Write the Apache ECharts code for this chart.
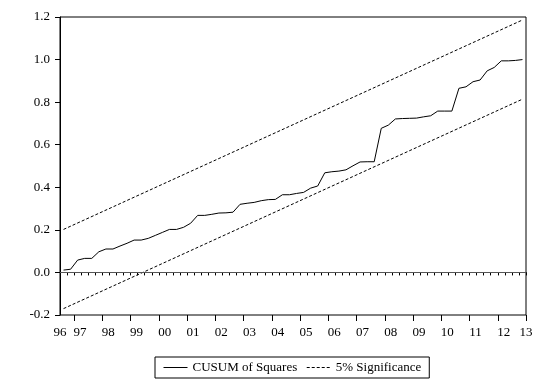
<!DOCTYPE html>
<html>
<head>
<meta charset="utf-8">
<script src="https://cdn.jsdelivr.net/npm/echarts@6/dist/echarts.min.js"></script>
<style>
  html, body { margin: 0; padding: 0; background: #fff; }
  #chart { width: 539px; height: 381px; }
</style>
</head>
<body>
<div id="chart"></div>
<script>
// Quarterly sample 1996Q3 - 2012Q4 (66 observations)
const firstObs = '1996Q3';
const yearLabels = ['96','97','98','99','00','01','02','03','04','05','06','07','08','09','10','11','12','13'];

const cusumOfSquares = [
  0.011, 0.015, 0.058, 0.066, 0.066, 0.097, 0.110, 0.110, 0.124, 0.137,
  0.152, 0.152, 0.160, 0.174, 0.188, 0.202, 0.202, 0.212, 0.231, 0.268,
  0.268, 0.273, 0.279, 0.280, 0.283, 0.320, 0.325, 0.329, 0.337, 0.342,
  0.343, 0.365, 0.365, 0.371, 0.376, 0.396, 0.406, 0.468, 0.473, 0.476,
  0.482, 0.501, 0.519, 0.520, 0.520, 0.677, 0.692, 0.721, 0.723, 0.724,
  0.725, 0.731, 0.736, 0.758, 0.758, 0.758, 0.865, 0.872, 0.896, 0.904,
  0.947, 0.963, 0.994, 0.994, 0.996, 1.000
];

// 5% significance bounds: straight lines between the first and last observation
const boundObs = [0, 65];
const upperBound = [0.202, 1.186];
const lowerBound = [-0.170, 0.814];

const nObs = cusumOfSquares.length;
const serif = 'Liberation Serif, Times New Roman, serif';

// observation i occupies slot [i, i+1]; plotted at its centre
const obsX = i => i + 0.5;
const cusumData = cusumOfSquares.map((v, i) => [obsX(i), v]);
const upperData = boundObs.map((o, k) => [obsX(o), upperBound[k]]);
const lowerData = boundObs.map((o, k) => [obsX(o), lowerBound[k]]);

// year boundaries (start of Q1) in slot units
const yearBoundary = k => Math.min(nObs, Math.max(0, 4 * k - 2));
const labelPos = yearLabels.map((y, k) => {
  const b = yearBoundary(k);
  return (b === 0 || b === nObs) ? b : b + 0.85;
});
const minorTicks = Array.from({length: nObs + 1}, (_, i) => i);
const majorTicks = yearLabels.map((y, k) => yearBoundary(k)).filter(b => b > 0);

const chart = echarts.init(document.getElementById('chart'), null, {renderer: 'canvas'});
chart.setOption({
  animation: false,
  backgroundColor: '#fff',
  grid: {
    left: 60, right: 13, top: 17, bottom: 66,
    show: true, borderColor: '#000', borderWidth: 1, backgroundColor: 'transparent'
  },
  legend: {
    left: 155, top: 357,
    padding: [4, 8, 4, 8],
    itemGap: 9,
    itemWidth: 24, itemHeight: 10,
    borderColor: '#000', borderWidth: 1,
    itemStyle: { color: 'transparent', borderColor: 'transparent', borderWidth: 0 },
    lineStyle: { width: 1 },
    textStyle: { fontFamily: serif, fontSize: 13, color: '#000' },
    data: ['CUSUM of Squares', '5% Significance']
  },
  xAxis: [{
    type: 'value', min: 0, max: nObs,
    axisLine: { show: true, lineStyle: { color: '#000', width: 1 } },
    axisTick: { show: true, inside: false, length: 3, customValues: minorTicks,
                lineStyle: { color: '#000', width: 1 } },
    axisLabel: {
      customValues: labelPos,
      formatter: function (v) {
        let best = 0, d = Infinity;
        labelPos.forEach((p, k) => { if (Math.abs(p - v) < d) { d = Math.abs(p - v); best = k; } });
        return yearLabels[best];
      },
      fontFamily: serif, fontSize: 13, color: '#000', margin: 11
    },
    splitLine: { show: false }
  }, {
    type: 'value', min: 0, max: nObs, position: 'bottom',
    axisLine: { show: false },
    axisTick: { show: true, inside: false, length: 6, customValues: majorTicks,
                lineStyle: { color: '#000', width: 1 } },
    axisLabel: { show: false },
    splitLine: { show: false }
  }],
  yAxis: {
    type: 'value', min: -0.2, max: 1.2, interval: 0.2,
    axisLine: { show: true, lineStyle: { color: '#000', width: 1 } },
    axisTick: { show: true, inside: false, length: 5, lineStyle: { color: '#000' } },
    axisLabel: {
      formatter: v => v.toFixed(1),
      fontFamily: serif, fontSize: 13, color: '#000', margin: 10
    },
    splitLine: { show: false }
  },
  series: [{
    name: 'CUSUM of Squares',
    type: 'line',
    data: cusumData,
    symbol: 'none',
    lineStyle: { color: '#000', width: 1 },
    itemStyle: { color: '#000' },
    markLine: {
      silent: true, symbol: 'none', label: { show: false },
      lineStyle: { color: '#555', width: 1, type: 'solid' },
      data: [{ yAxis: 0 }]
    }
  }, {
    name: '5% Significance',
    type: 'line',
    data: upperData,
    symbol: 'none',
    lineStyle: { color: '#000', width: 1, type: [3, 2] },
    itemStyle: { color: '#000' }
  }, {
    name: '5% Significance',
    type: 'line',
    data: lowerData,
    symbol: 'none',
    lineStyle: { color: '#000', width: 1, type: [3, 2] },
    itemStyle: { color: '#000' }
  }]
});
</script>
</body>
</html>
